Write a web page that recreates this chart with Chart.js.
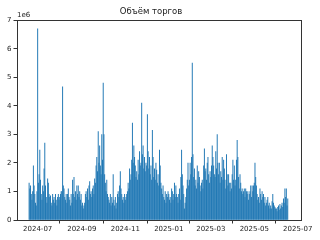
<!DOCTYPE html>
<html>
<head>
<meta charset="utf-8">
<script src="https://cdn.jsdelivr.net/npm/chart.js@4.4.0/dist/chart.umd.min.js"></script>
<style>
html, body { margin: 0; padding: 0; background: #fff; }
#wrap { width: 320px; height: 240px; }
</style>
</head>
<body>
<div id="wrap"><canvas id="graficoVolume" width="320" height="240"></canvas></div>
<script>
//DATA - daily volume, millions, first bar on startDate
const startDate = '2024-06-19';
const volJun2024 = [1.3, 1.1, 1.2, 0.9, 0.7, 1.0, 1.9, 1.2, 0.9, 0.6, 0.5, 1.0];
const volJul2024 = [6.7, 1.3, 1.6, 2.45, 1.4, 0.9, 0.7, 1.2, 1.0, 1.8, 2.7, 1.2, 0.8, 0.6, 1.45, 1.3, 0.9, 0.8, 0.85, 0.6, 0.5, 0.9, 0.7, 0.8, 0.6, 0.9, 0.7, 0.5, 0.8, 0.9, 0.7];
const volAug2024 = [0.8, 0.9, 1.0, 1.0, 4.67, 1.2, 1.1, 0.8, 0.7, 0.9, 0.6, 0.9, 1.1, 0.8, 0.7, 0.5, 0.9, 0.6, 1.4, 0.9, 1.5, 0.8, 1.0, 0.7, 1.2, 0.9, 1.2, 0.8, 1.0, 0.7, 0.9];
const volSep2024 = [0.5, 0.6, 0.4, 0.5, 0.6, 0.9, 1.0, 0.8, 1.1, 0.7, 1.2, 1.35, 0.9, 1.0, 0.8, 1.1, 1.2, 0.9, 1.45, 1.3, 1.9, 2.2, 1.7, 3.1, 2.0, 2.6, 1.9, 1.6, 3.0, 2.1];
const volOct2024 = [4.8, 3.0, 1.6, 1.3, 1.0, 1.4, 0.9, 0.8, 0.7, 0.6, 0.9, 0.5, 0.8, 0.6, 1.6, 0.7, 0.5, 0.8, 0.4, 0.6, 0.9, 1.0, 0.8, 1.2, 1.7, 1.1, 0.9, 0.7, 0.8, 0.6, 0.9];
const volNov2024 = [0.7, 0.8, 0.9, 1.0, 1.3, 1.1, 1.8, 1.4, 1.6, 2.1, 3.4, 2.0, 2.6, 2.2, 1.9, 1.5, 1.7, 1.4, 2.1, 1.6, 2.4, 1.9, 2.0, 4.1, 2.3, 2.6, 1.8, 2.2, 1.7, 2.0];
const volDec2024 = [1.9, 3.7, 2.4, 1.8, 2.2, 1.6, 1.9, 1.4, 3.15, 2.2, 1.5, 1.8, 1.4, 2.0, 1.75, 1.3, 1.6, 1.2, 2.45, 1.9, 1.3, 1.1, 0.9, 1.2, 0.8, 0.7, 1.0, 0.6, 0.9, 0.8, 1.0];
const volJan2025 = [0.9, 0.7, 0.8, 0.6, 1.1, 1.0, 0.7, 0.9, 1.3, 0.8, 1.2, 0.9, 0.8, 0.6, 0.9, 1.1, 0.7, 1.5, 2.45, 1.6, 1.2, 0.9, 0.4, 0.6, 0.8, 1.1, 1.4, 2.0, 1.2, 1.4, 2.0];
const volFeb2025 = [1.6, 2.2, 5.5, 2.3, 1.5, 1.8, 1.2, 1.4, 1.1, 1.9, 1.3, 1.7, 1.5, 1.2, 1.0, 1.3, 1.4, 1.1, 1.9, 2.5, 1.7, 1.8, 1.4, 2.0, 2.2, 1.6, 1.3, 1.7];
const volMar2025 = [1.5, 1.9, 2.6, 2.2, 1.9, 1.6, 1.5, 2.4, 1.8, 3.0, 2.0, 1.6, 2.0, 1.3, 1.7, 1.5, 2.2, 1.4, 2.1, 1.8, 1.4, 1.1, 2.3, 1.6, 1.2, 1.6, 1.3, 1.0, 1.3, 1.1, 1.6];
const volApr2025 = [2.1, 1.4, 1.9, 1.2, 1.4, 2.1, 2.8, 2.2, 1.5, 1.1, 1.6, 1.3, 1.0, 1.1, 0.9, 1.0, 1.1, 0.8, 1.1, 1.0, 0.9, 1.0, 0.7, 0.9, 1.0, 1.2, 0.8, 1.2, 1.0, 1.2];
const volMay2025 = [1.3, 2.0, 1.5, 1.2, 0.9, 0.7, 0.8, 0.6, 1.1, 0.9, 0.7, 1.0, 0.8, 0.9, 0.6, 0.8, 0.5, 0.6, 0.7, 0.8, 0.5, 0.6, 0.4, 0.5, 0.4, 0.65, 0.9, 0.6, 0.5, 0.45, 0.4];
const volJun2025 = [0.4, 0.3, 0.45, 0.5, 0.35, 0.55, 0.4, 0.5, 0.6, 0.45, 0.75, 0.6, 1.1, 0.8, 1.1, 0.5, 0.75];

const tickDates = ['2024-07-01', '2024-09-01', '2024-11-01', '2025-01-01', '2025-03-01', '2025-05-01', '2025-07-01'];
const tickLabels = ['2024-07', '2024-09', '2024-11', '2025-01', '2025-03', '2025-05', '2025-07'];
const yTicks = [0, 1, 2, 3, 4, 5, 6, 7];
const chartTitle = 'Объём торгов';

//GENERAL FUNCTIONS
function dayIndex(str) {
    // days since 2024-07-01
    let t = Date.UTC(+str.slice(0, 4), +str.slice(5, 7) - 1, +str.slice(8, 10));
    return Math.round((t - Date.UTC(2024, 6, 1)) / 86400000);
}

function buildPoints() {
    let all = [].concat(volJun2024, volJul2024, volAug2024, volSep2024, volOct2024, volNov2024,
        volDec2024, volJan2025, volFeb2025, volMar2025, volApr2025, volMay2025, volJun2025);
    let first = dayIndex(startDate);
    return all.map((v, i) => ({ x: first + i, y: v * 1e6 }));
}

const font = 'DejaVu Sans';
const textColor = '#222';

const frame = {
    id: 'frame',
    afterDatasetsDraw(chart) {
        const { ctx, chartArea: a } = chart;
        ctx.save();
        ctx.strokeStyle = '#333';
        ctx.lineWidth = 1;
        ctx.strokeRect(Math.round(a.left) + 0.5, Math.round(a.top) + 0.5,
            Math.round(a.right - a.left) - 1, Math.round(a.bottom - a.top));
        // offset text of the y axis
        ctx.fillStyle = textColor;
        ctx.font = '7px "' + font + '"';
        ctx.textAlign = 'left';
        ctx.textBaseline = 'bottom';
        ctx.fillText('1e6', a.left, a.top - 2);
        ctx.restore();
    }
};

//CHART
const graphicVolume = document.getElementById('graficoVolume');

const graphicForVolume = new Chart(graphicVolume, {
    type: 'bar',
    data: {
        datasets: [{
            label: 'volume',
            data: buildPoints(),
            backgroundColor: '#1f77b4',
            borderWidth: 0,
            barPercentage: 1,
            categoryPercentage: 0.8,
            inflateAmount: 0.2
        }]
    },
    plugins: [frame],
    options: {
        responsive: false,
        animation: false,
        devicePixelRatio: 1,
        layout: { padding: { left: 0, right: 18, top: 0, bottom: 0 } },
        plugins: {
            legend: { display: false },
            tooltip: { enabled: false },
            title: {
                display: true,
                text: chartTitle,
                color: textColor,
                font: { family: font, size: 8.5, weight: 'normal' },
                padding: { top: 7, bottom: 3 }
            }
        },
        scales: {
            x: {
                type: 'linear',
                offset: false,
                min: -29,
                max: 371,
                afterBuildTicks: axis => {
                    axis.ticks = tickDates.map(d => ({ value: dayIndex(d) }));
                },
                afterFit: axis => { axis.height = 20; },
                grid: { display: true, drawOnChartArea: false, drawTicks: true, tickLength: 3.5, tickColor: '#333' },
                border: { display: false },
                ticks: {
                    autoSkip: false,
                    maxRotation: 0,
                    padding: 1,
                    color: textColor,
                    font: { family: font, size: 7 },
                    callback: (v) => tickLabels[tickDates.findIndex(d => dayIndex(d) === v)]
                }
            },
            y: {
                min: 0,
                max: 7e6,
                afterBuildTicks: axis => {
                    axis.ticks = yTicks.map(v => ({ value: v * 1e6 }));
                },
                afterFit: axis => { axis.width = 17; },
                grid: { display: true, drawOnChartArea: false, drawTicks: true, tickLength: 3.5, tickColor: '#333' },
                border: { display: false },
                ticks: {
                    padding: 2,
                    color: textColor,
                    font: { family: font, size: 7 },
                    callback: v => String(v / 1e6)
                }
            }
        }
    }
});
</script>
</body>
</html>
